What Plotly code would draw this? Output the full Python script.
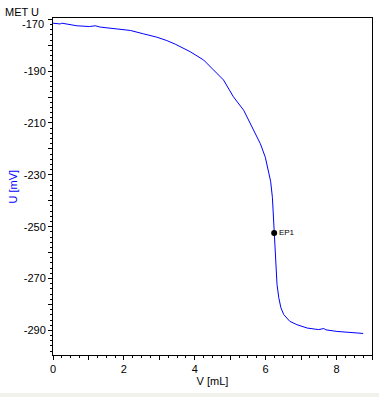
import plotly.graph_objects as go

V = [0.0, 0.2, 0.25, 0.67, 1.03, 1.19, 1.33, 1.8, 2.18, 2.55, 2.93, 3.21, 3.45, 3.87,
     4.25, 4.81, 5.09, 5.38, 5.61, 5.85, 5.99, 6.08, 6.14, 6.19, 6.24, 6.29, 6.32, 6.37,
     6.43, 6.51, 6.68, 6.88, 7.17, 7.49, 7.64, 7.7, 8.01, 8.58, 8.75]
U = [-171.5, -171.8, -171.5, -172.5, -172.8, -172.5, -173.0, -173.7, -174.3, -175.6,
     -176.9, -178.2, -179.6, -182.5, -185.7, -193.4, -199.9, -205.1, -211.6, -218.0,
     -223.2, -229.6, -232.5, -238.7, -252.4, -264.5, -272.2, -277.4, -281.3, -283.9,
     -286.5, -287.8, -289.1, -289.7, -289.3, -289.8, -290.4, -291.0, -291.2]

EP_V = [6.24]
EP_U = [-252.4]
EP_LABEL = ["EP1"]

y_tickvals = list(range(-170, -300, -10))
y_labelled = [-190, -210, -230, -250, -270, -290]
y_ticktext = [str(v) if v in y_labelled else "" for v in y_tickvals]
y_top_label = -170
x_tickvals = list(range(0, 10))
x_ticktext = [str(v) if v % 2 == 0 else "" for v in x_tickvals]

font = "Liberation Sans, DejaVu Sans, sans-serif"

fig = go.Figure()
fig.add_trace(go.Scatter(x=V, y=U, mode="lines", line=dict(color="#0000FF", width=1),
                         showlegend=False, hoverinfo="skip"))
fig.add_trace(go.Scatter(x=EP_V, y=EP_U, mode="markers+text", text=EP_LABEL,
                         textposition="middle right",
                         textfont=dict(family=font, size=8, color="black"),
                         marker=dict(color="black", size=6), showlegend=False))

fig.update_layout(
    width=379, height=397,
    margin=dict(l=53, r=7, t=18, b=42, autoexpand=False),
    paper_bgcolor="white", plot_bgcolor="white",
    font=dict(family=font, size=11, color="black"),
    title=dict(text="MET U", x=5/379, xanchor="left", xref="container",
               y=1 - 12/397, yanchor="middle", yref="container",
               font=dict(family=font, size=11, color="black"), automargin=False),
    xaxis=dict(range=[0, 9], tickvals=x_tickvals, ticktext=x_ticktext, automargin=False,
               ticks="outside", ticklen=4, tickcolor="black", tickwidth=1,
               minor=dict(dtick=0.25, tick0=0, ticks="outside", ticklen=2, tickcolor="black"),
               showline=True, linecolor="black", linewidth=1, mirror=True,
               showgrid=False, zeroline=False,
               title=dict(text="V [mL]", standoff=3, font=dict(family=font, size=11, color="black")),
               tickfont=dict(family=font, size=11, color="black")),
    yaxis=dict(range=[-299.5, -169.5], tickvals=y_tickvals, ticktext=y_ticktext, automargin=False,
               ticks="outside", ticklen=4, tickcolor="black", tickwidth=1,
               minor=dict(dtick=2, tick0=-170, ticks="outside", ticklen=2, tickcolor="black"),
               showline=True, linecolor="black", linewidth=1, mirror=True,
               showgrid=False, zeroline=False,
               tickfont=dict(family=font, size=11, color="black")),
    annotations=[
        dict(x=0, xref="paper", xanchor="right", xshift=-7,
             y=y_top_label, yref="y", yanchor="middle", yshift=-5,
             text=str(y_top_label), showarrow=False,
             font=dict(family=font, size=11, color="black")),
        dict(x=0, xref="paper", xanchor="center", xshift=-41,
             y=0.5, yref="paper", yanchor="middle", textangle=-90,
             text="U [mV]", showarrow=False,
             font=dict(family=font, size=11, color="#0000FF")),
    ],
    shapes=[dict(type="rect", xref="paper", yref="paper", x0=-53/319, x1=1 + 7/319,
                 y0=-42/337, y1=-38/337, fillcolor="#F2F2EC", line=dict(width=0), layer="below")],
)

fig.write_html("out.html", config={"displayModeBar": False},
               post_script="document.body.style.margin='0';")
